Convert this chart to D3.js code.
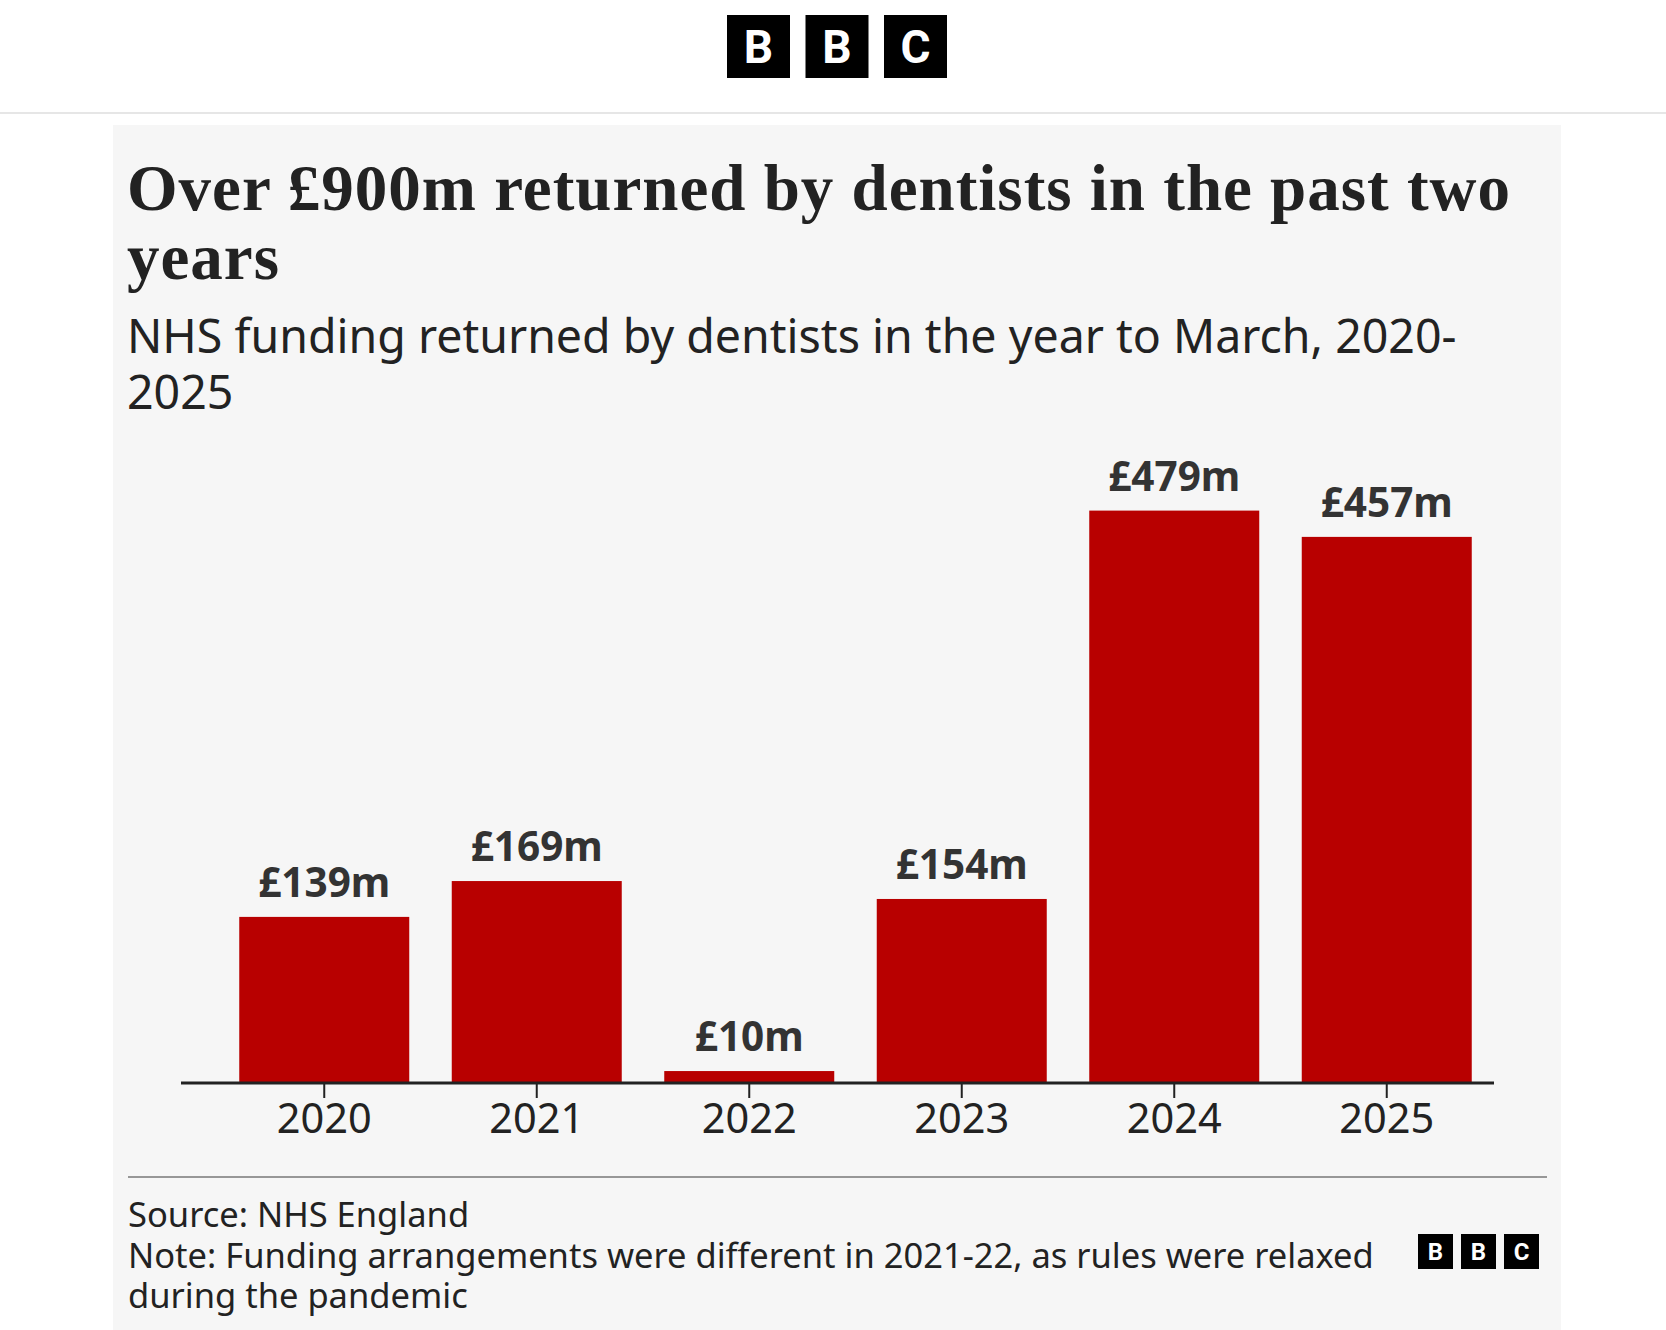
<html>
<head>
  <style type="text/css">
    body { margin: 0; background: #fff; }
    svg text { font-family: "Noto Sans", sans-serif; }
  </style>
</head>
<body>
  <svg id="chart" width="1666" height="1330"></svg>
  <script src="https://cdnjs.cloudflare.com/ajax/libs/d3/7.8.5/d3.min.js"></script>
  <script>
  // data
  const years = ["2020", "2021", "2022", "2023", "2024", "2025"];
  const returned = [139, 169, 10, 154, 479, 457];
  const titleLines = ["Over £900m returned by dentists in the past two", "years"];
  const subtitleLines = ["NHS funding returned by dentists in the year to March, 2020-", "2025"];
  const footLines = [
    "Source: NHS England",
    "Note: Funding arrangements were different in 2021-22, as rules were relaxed",
    "during the pandemic"
  ];

  const svg = d3.select("#chart");
  const red = "#b80000";
  const ink = "#222222";

  // bbc block logo
  const drawLogo = (g, size, gap, fontSize) => {
    ["B", "B", "C"].forEach((ch, i) => {
      g.append("rect")
        .attr("x", i * (size + gap)).attr("y", 0)
        .attr("width", size).attr("height", size)
        .attr("fill", "#000");
      g.append("text")
        .attr("x", i * (size + gap) + size / 2)
        .attr("y", size / 2)
        .attr("dy", "0.36em")
        .attr("text-anchor", "middle")
        .attr("fill", "#fff")
        .attr("font-weight", 700)
        .attr("font-size", fontSize)
        .style("font-family", "Roboto, 'Noto Sans', sans-serif")
        .text(ch);
    });
  };

  drawLogo(svg.append("g").attr("transform", "translate(727,15)"), 63, 15.5, 46);

  svg.append("rect")
    .attr("x", 0).attr("y", 112).attr("width", 1666).attr("height", 2)
    .attr("fill", "#e6e6e6");

  // panel
  svg.append("rect")
    .attr("x", 113).attr("y", 125).attr("width", 1448).attr("height", 1205)
    .attr("fill", "#f6f6f6");

  // title + subtitle
  const title = svg.append("g").selectAll("text")
    .data(titleLines)
    .join("text")
      .attr("x", 127)
      .attr("y", (d, i) => 210 + i * 69)
      .attr("fill", ink)
      .attr("font-size", 65)
      .attr("font-weight", 700)
      .style("font-family", "'Liberation Serif', serif")
      .text(d => d);

  // stretch the serif a little to the width of the original face
  const firstLen = title.node().getComputedTextLength();
  const spacing = Math.max(0, (1383 - firstLen) / (titleLines[0].length - 1));
  title.attr("letter-spacing", spacing);

  svg.append("g").selectAll("text")
    .data(subtitleLines)
    .join("text")
      .attr("x", 127)
      .attr("y", (d, i) => 353 + i * 56)
      .attr("fill", ink)
      .attr("font-size", 46.5)
      .text(d => d);

  // chart
  const axisY = 1083;

  const x = d3.scaleBand()
    .domain(years)
    .range([218, 1493])
    .paddingInner(0.2)
    .paddingOuter(0.1);

  const y = d3.scaleLinear()
    .domain([0, 500])
    .range([axisY, axisY - 500 * 1.195]);

  const g = svg.append("g");

  g.selectAll(".bar")
    .data(years)
    .join("rect")
      .attr("class", "bar")
      .attr("x", d => x(d))
      .attr("y", (d, i) => y(returned[i]))
      .attr("width", x.bandwidth())
      .attr("height", (d, i) => axisY - y(returned[i]))
      .attr("fill", red);

  g.selectAll(".val")
    .data(years)
    .join("text")
      .attr("class", "val")
      .attr("x", d => x(d) + x.bandwidth() / 2)
      .attr("y", (d, i) => y(returned[i]) - 20)
      .attr("text-anchor", "middle")
      .attr("fill", "#333")
      .attr("font-size", 40.5)
      .attr("font-weight", 700)
      .text((d, i) => "£" + returned[i] + "m");

  const xAxis = g.append("g")
    .attr("transform", "translate(0," + axisY + ")")
    .call(d3.axisBottom(x).tickSize(15).tickSizeOuter(0).tickPadding(6));

  xAxis.select(".domain").remove();
  xAxis.selectAll(".tick line").attr("stroke", ink).attr("stroke-width", 2);
  xAxis.selectAll(".tick text")
    .attr("fill", ink)
    .attr("font-size", 41.5)
    .style("font-family", "'Noto Sans', sans-serif");

  g.append("line")
    .attr("x1", 181).attr("x2", 1494)
    .attr("y1", axisY).attr("y2", axisY)
    .attr("stroke", ink).attr("stroke-width", 3);

  // footer
  svg.append("line")
    .attr("x1", 128).attr("x2", 1547)
    .attr("y1", 1177).attr("y2", 1177)
    .attr("stroke", "#777").attr("stroke-width", 1.5);

  svg.append("g").selectAll("text")
    .data(footLines)
    .join("text")
      .attr("x", 128)
      .attr("y", (d, i) => [1227, 1268, 1308][i])
      .attr("fill", ink)
      .attr("font-size", 34.5)
      .text(d => d);

  drawLogo(svg.append("g").attr("transform", "translate(1418,1234)"), 35, 8, 24);
  </script>
</body>
</html>
